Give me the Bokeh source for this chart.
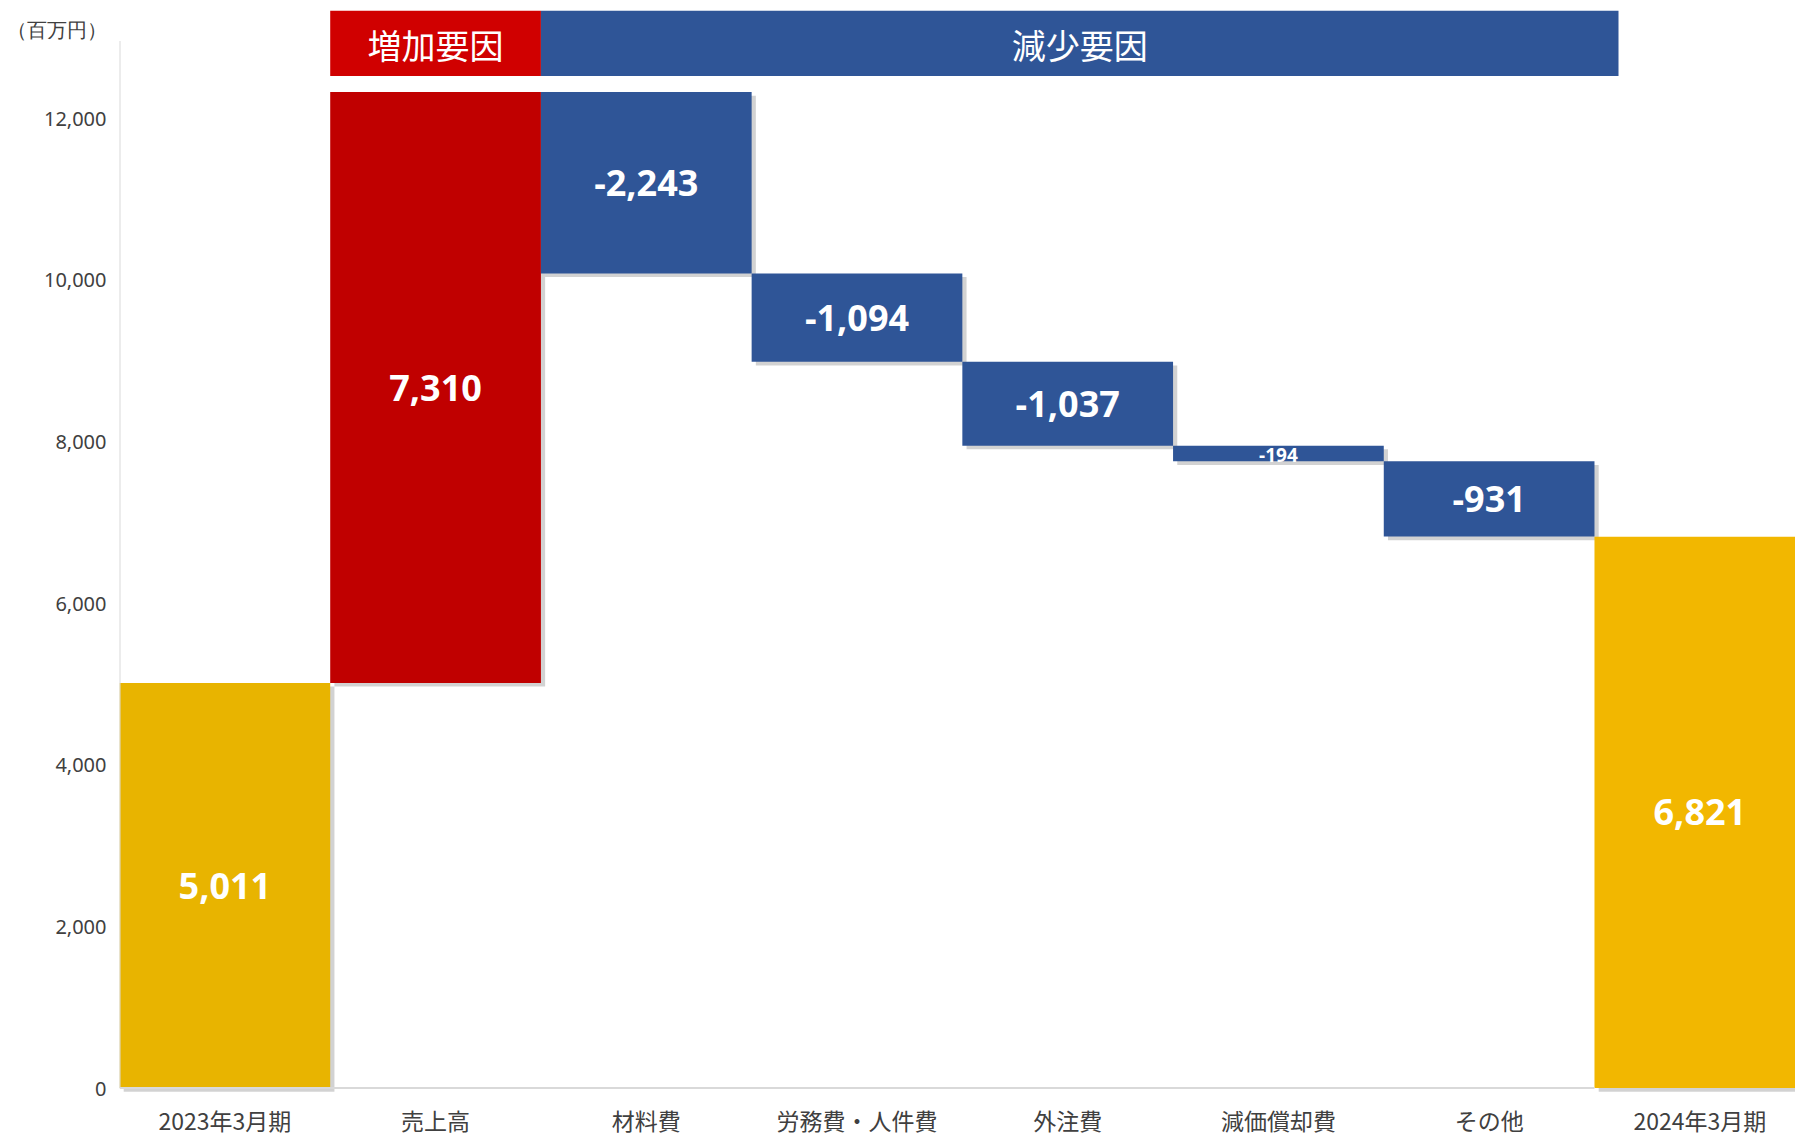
from bokeh.plotting import figure
from bokeh.models import Range1d, FixedTicker, NumeralTickFormatter, ColumnDataSource
from bokeh.core.properties import value
from bokeh.embed import file_html
from bokeh.resources import INLINE

# ---- data ----
categories = ["2023年3月期", "売上高", "材料費", "労務費・人件費", "外注費", "減価償却費", "その他", "2024年3月期"]
start_value = 5011
changes = [7310, -2243, -1094, -1037, -194, -931]
end_value = 6821
value_labels = ["5,011", "7,310", "-2,243", "-1,094", "-1,037", "-194", "-931", "6,821"]
y_ticks = [0, 2000, 4000, 6000, 8000, 10000, 12000]
header_texts = ["増加要因", "減少要因"]
unit_label = "（百万円）"

# ---- derived bar extents ----
bottoms, tops, colors = [start_value * 0], [start_value], ["#E8B400"]
running = start_value
for c in changes:
    new = running + c
    bottoms.append(min(running, new))
    tops.append(max(running, new))
    colors.append("#C00000" if c > 0 else "#2F5597")
    running = new
bottoms.append(0)
tops.append(end_value)
colors.append("#F2B700")
xs = list(range(len(categories)))

src = ColumnDataSource(dict(
    left=[x - 0.5 for x in xs], right=[x + 0.5 for x in xs],
    bottom=bottoms, top=tops, color=colors,
    xc=xs, yc=[(b + t) / 2 for b, t in zip(bottoms, tops)],
    label=value_labels,
    sl=[x - 0.5 + 0.02 for x in xs], sr=[x + 0.5 + 0.02 for x in xs],
    sb=[b - 45 for b in bottoms], st=[t - 45 for t in tops],
))

Y_TOP = 13330
Y_BOT = -80
UNIT_Y = 13090
p = figure(width=1795, height=1139, output_backend="svg", toolbar_location=None,
           x_range=Range1d(-0.5, 7.454), y_range=Range1d(Y_BOT, Y_TOP),
           min_border_left=119, min_border_right=0, min_border_top=10, min_border_bottom=43)
p.outline_line_color = None
p.grid.visible = False
p.background_fill_color = "white"

# shadows
p.quad(left="sl", right="sr", bottom="sb", top="st", source=src,
       fill_color="#7f7f7f", fill_alpha=0.35, line_color=None)
# bars
p.quad(left="left", right="right", bottom="bottom", top="top", source=src,
       fill_color="color", line_color=None)

# baseline and y-axis line
p.segment(x0=[-0.5], y0=[0], x1=[6.5], y1=[0], line_color="#D9D9D9", line_width=2)
p.segment(x0=[-0.5], y0=[0], x1=[-0.5], y1=[12954], line_color="#D9D9D9", line_width=2)

# value labels
big = ColumnDataSource(dict(x=[x for x, l in zip(xs, value_labels) if l != "-194"],
                            y=[y for y, l in zip(src.data["yc"], value_labels) if l != "-194"],
                            t=[l for l in value_labels if l != "-194"]))
p.text(x="x", y="y", text="t", source=big, text_color="white", text_font=value("Open Sans"),
       text_font_style="bold", text_font_size="36px", text_align="center", text_baseline="middle")
small = ColumnDataSource(dict(x=[5], y=[src.data["yc"][5] - 15], t=["-194"]))
p.text(x="x", y="y", text="t", source=small, text_color="white", text_font=value("Open Sans"),
       text_font_style="bold", text_font_size="19px", text_align="center", text_baseline="middle")

# header boxes
hdr = ColumnDataSource(dict(left=[0.5, 1.5], right=[1.5, 6.614], bottom=[12521, 12521], top=[Y_TOP, Y_TOP],
                            color=["#D00000", "#2F5597"], x=[1.0, 4.057], y=[12905, 12905], t=header_texts))
p.quad(left="left", right="right", bottom="bottom", top="top", source=hdr, fill_color="color", line_color=None)
p.text(x="x", y="y", text="t", source=hdr, text_color="white", text_font=value("Noto Sans CJK JP"),
       text_font_size="34px", text_align="center", text_baseline="middle")

# axes (unit label shown as an extra labelled tick at the top of the y axis)
p.yaxis.ticker = FixedTicker(ticks=y_ticks + [UNIT_Y])
p.yaxis.formatter = NumeralTickFormatter(format="0,0")
p.yaxis.major_label_overrides = {UNIT_Y: unit_label}
p.yaxis.axis_line_color = None
p.yaxis.major_tick_line_color = None
p.yaxis.minor_tick_line_color = None
p.yaxis.major_tick_out = 0
p.yaxis.major_tick_in = 0
p.yaxis.major_label_standoff = 13
p.yaxis.major_label_text_font = "Noto Sans"
p.yaxis.major_label_text_font_size = "20px"
p.yaxis.major_label_text_color = "#404040"

p.xaxis.ticker = FixedTicker(ticks=xs)
p.xaxis.major_label_overrides = {i: c for i, c in enumerate(categories)}
p.xaxis.axis_line_color = None
p.xaxis.major_tick_line_color = None
p.xaxis.minor_tick_line_color = None
p.xaxis.major_label_standoff = 2
p.xaxis.major_label_text_font = "Noto Sans CJK JP"
p.xaxis.major_label_text_font_size = "23px"
p.xaxis.major_label_text_color = "#404040"

open("out.html", "w").write(file_html(p, INLINE))
